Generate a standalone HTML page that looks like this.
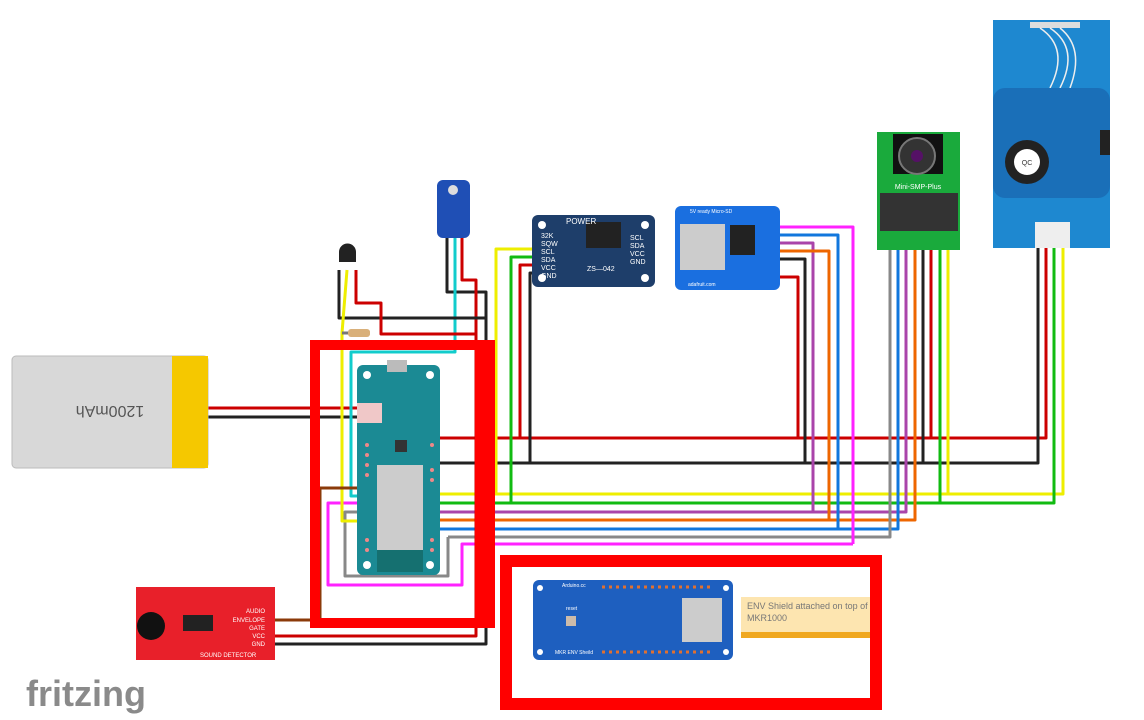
<!DOCTYPE html>
<html><head><meta charset="utf-8"><style>
html,body{margin:0;padding:0;background:#fff;width:1144px;height:720px;overflow:hidden}
svg{display:block}
text{font-family:"Liberation Sans",sans-serif}
</style></head><body>
<svg width="1144" height="720" viewBox="0 0 1144 720" xmlns="http://www.w3.org/2000/svg">
<g fill="none" stroke-width="3" stroke-linejoin="round">
<path d="M208 408H357" stroke="#c00"/>
<path d="M208 417H357" stroke="#222"/>
<path d="M435 438H1046V248" stroke="#c00"/>
<path d="M798 438V277H775" stroke="#c00"/>
<path d="M931 438V250" stroke="#c00"/>
<path d="M520 438V265H536" stroke="#c00"/>
<path d="M435 463H1038V248" stroke="#222"/>
<path d="M805 463V259H775" stroke="#222"/>
<path d="M923 463V250" stroke="#222"/>
<path d="M530 463V273H536" stroke="#222"/>
<path d="M432 494H1063V248" stroke="#ee0"/>
<path d="M948 494V250" stroke="#ee0"/>
<path d="M496 494V249H536" stroke="#ee0"/>
<path d="M432 503H1054V248" stroke="#1b1"/>
<path d="M940 503V250" stroke="#1b1"/>
<path d="M511 503V257H536" stroke="#1b1"/>
<path d="M432 512H906V250" stroke="#a4a"/>
<path d="M813 512V243H775" stroke="#a4a"/>
<path d="M432 520H915V250" stroke="#e60"/>
<path d="M829 520V251H775" stroke="#e60"/>
<path d="M432 529H898V250" stroke="#17d"/>
<path d="M838 529V235H775" stroke="#17d"/>
<path d="M448 537H890V250" stroke="#888"/>
<path d="M448 537V576H345V512H367" stroke="#888"/>
<path d="M853 544V227H775" stroke="#f2f"/>
<path d="M853 544H462V585H328V503H367" stroke="#f2f"/>
<path d="M447 238V292H486V644H275" stroke="#222"/>
<path d="M462 238V280H476V636H275" stroke="#c00"/>
<path d="M455 238V352H351V496H367" stroke="#1cc"/>
<path d="M339 270V318H486" stroke="#222"/>
<path d="M356 270V303H381V334H476" stroke="#c00"/>
<path d="M347 270L342 333V521H367" stroke="#ee0"/>
<path d="M342 333H370" stroke="#777"/>
<path d="M367 488H320V620H275" stroke="#8b3a0a"/>
</g>
<rect x="348" y="329" width="22" height="8" rx="3" fill="#d9b07a"/>
<path d="M339 252a8 8 0 0 1 17 0v10h-17z" fill="#222"/>
<rect x="437" y="180" width="33" height="58" rx="6" fill="#1f4fb5"/>
<circle cx="453" cy="190" r="5" fill="#ddd"/>
<rect x="532" y="215" width="123" height="72" rx="6" fill="#1e3e6a"/>
<circle cx="542" cy="225" r="4" fill="#fff"/><circle cx="645" cy="225" r="4" fill="#fff"/>
<circle cx="542" cy="278" r="4" fill="#fff"/><circle cx="645" cy="278" r="4" fill="#fff"/>
<rect x="586" y="222" width="35" height="26" fill="#222"/>
<text x="566" y="224" font-size="8" fill="#fff">POWER</text>
<text x="541" y="238" font-size="7" fill="#fff">32K</text>
<text x="541" y="246" font-size="7" fill="#fff">SQW</text>
<text x="541" y="254" font-size="7" fill="#fff">SCL</text>
<text x="541" y="262" font-size="7" fill="#fff">SDA</text>
<text x="541" y="270" font-size="7" fill="#fff">VCC</text>
<text x="541" y="278" font-size="7" fill="#fff">GND</text>
<text x="630" y="240" font-size="7" fill="#fff">SCL</text>
<text x="630" y="248" font-size="7" fill="#fff">SDA</text>
<text x="630" y="256" font-size="7" fill="#fff">VCC</text>
<text x="630" y="264" font-size="7" fill="#fff">GND</text>
<text x="587" y="271" font-size="7" fill="#fff">ZS—042</text>
<rect x="675" y="206" width="105" height="84" rx="6" fill="#1a6fe0"/>
<rect x="680" y="224" width="45" height="46" fill="#ccc"/>
<rect x="730" y="225" width="25" height="30" fill="#222"/>
<text x="690" y="213" font-size="5" fill="#fff">5V ready Micro-SD</text>
<text x="688" y="286" font-size="5" fill="#fff">adafruit.com</text>
<rect x="877" y="132" width="83" height="118" fill="#1aaa3c"/>
<rect x="893" y="134" width="50" height="40" fill="#111"/>
<circle cx="917" cy="156" r="18" fill="#333" stroke="#777" stroke-width="2"/>
<circle cx="917" cy="156" r="6" fill="#516"/>
<rect x="880" y="193" width="78" height="38" fill="#333"/>
<text x="918" y="189" font-size="7" fill="#fff" text-anchor="middle">Mini-SMP-Plus</text>
<rect x="993" y="20" width="117" height="228" fill="#1e88d0"/>
<rect x="1030" y="22" width="50" height="6" fill="#ddd"/>
<path d="M1040 28q30 20 10 60M1050 28q30 20 10 60M1060 28q25 20 10 60" stroke="#eee" stroke-width="1.5" fill="none"/>
<rect x="993" y="88" width="117" height="110" rx="12" fill="#1a6fb8"/>
<circle cx="1027" cy="162" r="22" fill="#222"/>
<circle cx="1027" cy="162" r="13" fill="#fff"/>
<text x="1027" y="165" font-size="7" fill="#333" text-anchor="middle">QC</text>
<rect x="1100" y="130" width="10" height="25" fill="#222"/>
<rect x="1035" y="222" width="35" height="26" fill="#eee"/>
<rect x="12" y="356" width="196" height="112" rx="4" fill="#d8d8d8" stroke="#bbb"/>
<rect x="172" y="356" width="36" height="112" fill="#f5c800"/>
<text x="110" y="418" font-size="16" fill="#555" text-anchor="middle" transform="rotate(180 110 412)">1200mAh</text>
<rect x="357" y="365" width="83" height="210" rx="6" fill="#1b8a94"/>
<circle cx="367" cy="375" r="4" fill="#fff"/><circle cx="430" cy="375" r="4" fill="#fff"/>
<circle cx="367" cy="565" r="4" fill="#fff"/><circle cx="430" cy="565" r="4" fill="#fff"/>
<g fill="#e88">
<circle cx="367" cy="445" r="2"/><circle cx="367" cy="455" r="2"/><circle cx="367" cy="465" r="2"/><circle cx="367" cy="475" r="2"/><circle cx="367" cy="540" r="2"/><circle cx="367" cy="550" r="2"/>
<circle cx="432" cy="445" r="2"/><circle cx="432" cy="470" r="2"/><circle cx="432" cy="480" r="2"/><circle cx="432" cy="540" r="2"/><circle cx="432" cy="550" r="2"/>
</g>
<rect x="377" y="465" width="46" height="85" fill="#ccc"/>
<rect x="377" y="550" width="46" height="22" fill="#157070"/>
<rect x="387" y="360" width="20" height="12" fill="#bbb"/>
<rect x="357" y="403" width="25" height="20" fill="#f0c8c8"/>
<rect x="395" y="440" width="12" height="12" fill="#333"/>
<path d="M310 340H495V628H310Z M320 350V618H475V350Z" fill="#f00" fill-rule="evenodd"/>
<path d="M500 555H882V710H500Z M512 567V698H870V567Z" fill="#f00" fill-rule="evenodd"/>
<rect x="533" y="580" width="200" height="80" rx="6" fill="#1e5fbf"/>
<circle cx="540" cy="588" r="3" fill="#fff"/><circle cx="726" cy="588" r="3" fill="#fff"/>
<circle cx="540" cy="652" r="3" fill="#fff"/><circle cx="726" cy="652" r="3" fill="#fff"/>
<path d="M602 587H712M602 652H712" stroke="#e07030" stroke-width="3" stroke-dasharray="3 4"/>
<rect x="682" y="598" width="40" height="44" fill="#ccc"/>
<rect x="566" y="616" width="10" height="10" fill="#cba"/>
<text x="562" y="587" font-size="5" fill="#fff">Arduino.cc</text>
<text x="566" y="610" font-size="5" fill="#fff">reset</text>
<text x="555" y="654" font-size="5" fill="#fff">MKR ENV Sheild</text>
<rect x="741" y="597" width="129" height="40" fill="#fde5b0"/>
<rect x="741" y="632" width="129" height="6" fill="#f0a820"/>
<text x="747" y="609" font-size="9" fill="#777">ENV Shield attached on top of</text>
<text x="747" y="621" font-size="9" fill="#777">MKR1000</text>
<rect x="136" y="587" width="139" height="73" fill="#e8202a"/>
<circle cx="151" cy="626" r="14" fill="#111"/>
<rect x="183" y="615" width="30" height="16" fill="#222"/>
<text x="265" y="613" font-size="6" fill="#fff" text-anchor="end">AUDIO</text>
<text x="265" y="622" font-size="6" fill="#fff" text-anchor="end">ENVELOPE</text>
<text x="265" y="630" font-size="6" fill="#fff" text-anchor="end">GATE</text>
<text x="265" y="638" font-size="6" fill="#fff" text-anchor="end">VCC</text>
<text x="265" y="646" font-size="6" fill="#fff" text-anchor="end">GND</text>
<text x="200" y="657" font-size="6" fill="#fff">SOUND DETECTOR</text>
<text x="26" y="706" font-size="36" font-weight="bold" fill="#8a8a8a">fritzing</text>
</svg>
</body></html>
